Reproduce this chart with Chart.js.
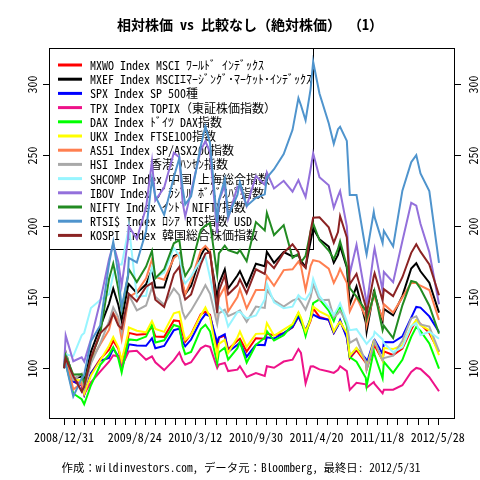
<!DOCTYPE html>
<html><head><meta charset="utf-8">
<script src="https://cdn.jsdelivr.net/npm/chart.js@4.4.1/dist/chart.umd.min.js"></script>
<style>html,body{margin:0;padding:0;background:#fff}canvas{display:block}</style>
</head><body>
<canvas id="c" width="480" height="480"></canvas>
<script>
// ---- data (values normalised to 100 on 2008/12/31) ----
const dates = ['2008/12/31','2009/1/6','2009/1/30','2009/2/27','2009/3/9','2009/3/31','2009/4/30','2009/5/29','2009/6/12','2009/6/30','2009/7/10','2009/7/31','2009/8/4','2009/8/31','2009/9/30','2009/10/20','2009/10/30','2009/11/30','2009/12/31','2010/1/19','2010/1/29','2010/2/8','2010/2/26','2010/3/31','2010/4/15','2010/4/30','2010/5/25','2010/5/31','2010/6/18','2010/6/30','2010/7/30','2010/8/9','2010/8/31','2010/9/30','2010/10/29','2010/11/5','2010/11/30','2010/12/31','2011/1/31','2011/2/18','2011/2/28','2011/3/15','2011/3/31','2011/4/8','2011/4/29','2011/5/31','2011/6/16','2011/6/30','2011/7/7','2011/7/29','2011/8/9','2011/8/31','2011/9/30','2011/10/4','2011/10/27','2011/10/31','2011/11/25','2011/11/30','2011/12/30','2012/1/31','2012/2/29','2012/3/16','2012/3/30','2012/4/30','2012/5/31'];

const mxwo = [100,108,90.5,87.8,81.2,96.2,106.4,112.9,119.2,113.7,104.4,121,124.8,123.5,124,129,122.3,122,133.6,133.1,124.2,118.4,123.8,137.9,139.8,137.5,114.3,121.4,122.9,113.3,119.3,120.7,111.7,121,120.7,124.3,123.2,124.5,128.7,136.5,132.6,124.8,133.3,142,136.1,134,124.8,130.4,133.1,122.4,106.9,112.7,103.8,99.1,114.7,115.9,105.4,111.8,109.2,113.8,127.1,133.6,131,124.7,111.5];
const mxef = [100,111,92.8,94,90.9,111.5,128.9,145.3,156.1,144.7,133.4,157.4,159.1,152.8,159,169.6,156.8,156.7,178.9,180.6,158.2,152.1,157.9,179.3,185.1,180.5,148.7,159.3,169.5,156,165.2,168.3,157.7,173.5,171.8,181.9,174.1,181.7,178.7,179.5,175.8,171.1,189.4,198.3,190.8,185.6,174.2,179.7,186,170.8,144.8,157.5,132.1,125.6,153.7,152.5,133.2,141.7,137.2,150.9,170.1,173.8,168.2,160.1,139.1];
const spx = [100,106.8,90.7,87.7,81.3,96.4,105.1,107.1,113.7,108.3,99.5,114.2,116.7,115.9,115.7,121,114,115.6,126.7,127.8,118.5,115.3,120.1,133.5,138,136.4,118,121.6,123.8,111.4,116.5,118,108,116.5,116.2,121.7,120.8,124.6,128.9,136.4,132.6,126.8,134.6,137.7,135.3,134,124.8,130,133.9,121.2,107.9,114,106.6,103.2,119.2,119.8,110.1,118.3,118.2,122.3,135.5,143.1,142.6,136.4,125.4];
const tpx = [100,104.5,92.4,88.1,81.6,90,97.5,104.5,109,108.2,101.3,110.6,111.7,112.2,105.9,108.2,104.1,98.6,105.6,111,104.9,102.4,104.1,113.9,115.8,114.9,100.1,102.5,103.6,97.9,98.9,101.3,93.7,96.5,94.4,101.3,100.2,104.6,105.9,113.4,110.7,89.2,101.2,101.3,99.1,97.6,96.6,98.8,101.3,97.9,84.7,89.7,88.6,86.2,90.2,88.9,82.2,84.8,84.8,87.9,97.3,100.1,99.4,93.6,83.7];
const dax = [100,103.6,82.1,78.1,74.5,87.9,102.2,109.5,114.7,106.8,97,118.1,120.2,119.6,122.2,130.6,118,119.6,130.4,129.1,115.3,109.8,111.4,127.5,130.5,125.9,103.4,111.2,114.3,105.9,114,118.5,103.9,116.4,121.4,126.1,119.4,123.2,130.5,138.7,134.9,122.5,136.2,145.7,148.4,140.5,133,141.3,142.5,129.8,107.7,104.5,93.2,87.5,112.2,109.4,92.8,104.4,96.6,105.8,122,129,126.2,117.4,99.6];
const ukx = [100,108,92,91.1,82.1,94.8,105.4,115.7,121.9,114.7,105.4,124,128.6,126.3,125.2,133.1,127.6,125.5,138.6,139.7,127.4,119.9,123.5,137.1,142.8,136,108.8,117.1,119.9,110.7,121.6,125.7,114.9,124.1,124.4,131.7,122.7,127.1,131,139.3,135.6,125.6,134.1,143.3,140,136.7,125.8,130.9,132.7,124.7,108.6,114.2,104.8,100.1,118.8,118.6,105.2,114.1,113.4,116.2,129.1,133.8,130.2,126.7,109.2];
const as51 = [100,109,84.9,89.5,85.6,105.4,116.7,126.9,138.9,133.6,120.4,146.8,150,153.5,163.3,176.6,164.2,162.2,177.5,180.6,160,152,161.6,182.8,186,182.4,139.2,149.6,157.2,139.9,150,155.7,142,155,155,165,158,169,169.6,175,172,155,172,176,175,170,160,166,170,160,140,150,136,130,152,150,135,145,139.1,149.8,160,160,158,155,134];
const hsi = [100,111.3,91.6,96,85.6,103.1,117.4,132.9,142.7,135.9,125.7,149.4,151.7,140.7,144.1,156.7,150.3,144.6,156,151.4,139.5,135,140.6,152.2,158.4,152.3,131,138.5,141.1,136.5,139.6,140.6,132.6,143.3,142.4,155.3,147.7,143.3,147.5,149.1,146.5,141.1,149.9,158.9,147.8,148.1,135.8,138.4,140.4,132.1,117.7,120.6,104.1,99,116.5,119.2,105.5,107.1,108.8,119.3,135,136.5,130.8,129.2,111.9];
const shcomp = [100,109.8,108.4,123.1,124.8,142.3,148,152.1,165.8,172.9,172.9,195.8,200,150.3,150.9,171.1,163.5,167.3,184.7,179.2,163.7,159.7,164.6,176.1,178.6,163.7,139.5,143.5,138,129.3,139.4,139.7,135,137.1,148.3,159.5,146.3,142.1,143.3,151.3,149.5,148.1,153.5,162.9,150.6,142.6,137.3,142.4,145.6,133.1,126.7,127.4,117.9,117.1,122.9,125.5,120.2,117.7,111.2,114.6,129.3,131.8,123.2,125.6,120.7];
const ibov = [100,123,104.8,107.6,104.6,120.2,146.9,176.7,187.4,174.7,158.1,190.4,199.8,191,213.1,245.8,218.2,227.2,251.6,248.5,216.5,206.7,224.6,253.6,259.8,251.9,195,217.8,228.7,205.5,227.8,227.8,214.1,235.2,229.2,237.8,226.5,231.9,224.3,232.4,228,220.5,240.4,251.3,234.4,228.7,212.9,221.1,224.7,199.8,166.5,186.8,149.5,143.1,181,184.3,154.6,167.7,160.5,189.5,216.4,214.4,201.7,181.7,145];
const nifty = [100,108.9,95.4,95.7,89.7,106.6,124,162.7,173.6,156,140.8,164.5,169.6,160.6,171.5,182.6,163.3,169.6,187.9,190.2,172.1,164.9,171.6,197.3,200.4,202.1,165.9,180.8,186.2,183,180.9,183.1,175.3,202.8,196.9,209.3,193.7,200.7,177.7,180.5,174.5,179.1,196.4,201.8,190,182.8,176.8,183.9,189.3,172,156.3,150.4,140.5,134.6,150.7,153.9,126.6,129.8,121.1,144.2,161.3,160.4,155.9,143.9,124.3];
const rtsi = [100,103,80,92.7,95.3,119,130,173.5,189,166.2,142.3,165.5,177.6,174.4,196.4,233.1,221.2,207.9,234.6,247.9,226.4,215.3,221,256.5,270.3,258.4,202.5,218.2,232.8,207,222,231,214.2,219.9,222.4,234.2,240.1,250.7,267.8,290.2,285.1,274.5,296.7,315.8,293.4,272.4,258,268.3,270,260,222,222,183,180,210,206.3,188.1,196.7,185.7,225,245,250,237.1,224.7,174.1];
const kospi = [100,106.8,94.4,83.5,87,107.2,124.5,130.8,138.3,130,127.8,148.5,152.4,147,157.3,160,148.1,143,166.2,171.3,154.3,148.3,151.9,173,180.7,181.6,138.7,154.4,165.4,151.9,158.3,162.5,152.7,169.6,166.3,175.6,170.4,181.3,187.2,181.7,174,170.6,196.8,205.9,206.2,199.1,188.3,195.8,207.1,192,159.1,166.4,143.2,138,164.7,166.9,147.5,155.6,150.7,164,181.2,187.2,182,173,151.3];

const seriesNames = [
  'MXWO Index MSCI ﾜｰﾙﾄﾞ ｲﾝﾃﾞｯｸｽ',
  'MXEF Index MSCIｴﾏｰｼﾞﾝｸﾞ･ﾏｰｹｯﾄ･ｲﾝﾃﾞｯｸｽ',
  'SPX Index SP 500種',
  'TPX Index TOPIX（東証株価指数）',
  'DAX Index ﾄﾞｲﾂ DAX指数',
  'UKX Index FTSE100指数',
  'AS51 Index SP/ASX200指数',
  'HSI Index 香港 ﾊﾝｾﾝ指数',
  'SHCOMP Index 中国 上海総合指数',
  'IBOV Index ﾌﾞﾗｼﾞﾙ ﾎﾞﾍﾞｽﾊﾟ指数',
  'NIFTY Index ｲﾝﾄﾞ NIFTY指数',
  'RTSI$ Index ﾛｼｱ RTS指数 USD',
  'KOSPI Index 韓国総合株価指数'
];
const seriesValues = [mxwo, mxef, spx, tpx, dax, ukx, as51, hsi, shcomp, ibov, nifty, rtsi, kospi];
const seriesColors = ['#FF0000','#000000','#0000FF','#EE1289','#00FF00','#FFFF00','#FF7F50','#A9A9A9','#98F5FF','#9370DB','#228B22','#4F94CD','#8B2323'];

const xTickLabels = ['2008/12/31','2009/8/24','2010/3/12','2010/9/30','2011/4/20','2011/11/8','2012/5/28'];
const xTickStep = 24;          // one axis tick every 24 weekdays
const yTicks = [100,150,200,250,300];
const titleText = '相対株価 vs 比較なし（絶対株価） （1）';
const footerText = '作成：wildinvestors.com, データ元：Bloomberg, 最終日: 2012/5/31';

// ---- helpers ----
const T0 = Date.UTC(2008,11,31);
function weekdayIndex(s){
  const [y,m,d] = s.split('/').map(Number);
  const t = Date.UTC(y,m-1,d);
  let n = 0;
  for(let u=T0+864e5; u<=t; u+=864e5){ const w=new Date(u).getUTCDay(); if(w!==0&&w!==6) n++; }
  return n;
}
const xs = dates.map(weekdayIndex);
const lastIdx = xs[xs.length-1];
const allVals = seriesValues.flat().filter(v=>typeof v==='number');
const yLo = Math.min(...allVals), yHi = Math.max(...allVals);
const xPad = lastIdx*0.04;

const MONO = '"Noto Sans Mono CJK JP","Noto Sans CJK JP","DejaVu Sans Mono",monospace';

const datasets = seriesValues.map((vals,i)=>({
  label: seriesNames[i],
  data: xs.map((x,j)=>({x:x, y:vals[j]})),
  borderColor: seriesColors[i],
  backgroundColor: seriesColors[i],
  borderWidth: 2,
  pointRadius: 0,
  tension: 0,
  fill: false,
  order: seriesValues.length - i
}));

const frame = {
  id: 'frame',
  beforeDatasetsDraw(chart){
    const ctx = chart.ctx, a = chart.chartArea;
    const lx = a.left, ly = a.top, lw = 264, rowH = 14.2, lh = 201;
    ctx.save();
    ctx.strokeStyle = '#000'; ctx.lineWidth = 1;
    ctx.strokeRect(lx+0.5, ly+0.5, lw, lh);
    ctx.font = '12px ' + MONO;
    ctx.textBaseline = 'middle'; ctx.textAlign = 'left';
    seriesNames.forEach((nm,i)=>{
      const y = ly + 17 + i*rowH;
      ctx.strokeStyle = seriesColors[i]; ctx.lineWidth = 3;
      ctx.beginPath(); ctx.moveTo(lx+9, y); ctx.lineTo(lx+33, y); ctx.stroke();
      ctx.fillStyle = '#000';
      ctx.fillText(nm, lx+41, y+0.5);
    });
    ctx.restore();
  },
  afterDraw(chart){
    const ctx = chart.ctx, a = chart.chartArea;
    const xS = chart.scales.x, yS = chart.scales.y;
    ctx.save();
    ctx.strokeStyle = '#000'; ctx.lineWidth = 1;
    ctx.strokeRect(a.left+0.5, a.top+0.5, a.right-a.left, a.bottom-a.top);
    ctx.font = '12px ' + MONO; ctx.fillStyle = '#000';
    yTicks.forEach(v=>{
      const y = Math.round(yS.getPixelForValue(v))+0.5;
      ctx.beginPath();
      ctx.moveTo(a.left-6, y); ctx.lineTo(a.left, y);
      ctx.moveTo(a.right+1, y); ctx.lineTo(a.right+7, y);
      ctx.stroke();
      [a.left-16.5, a.right+19].forEach(px=>{
        ctx.save(); ctx.translate(px, y); ctx.rotate(-Math.PI/2);
        ctx.textAlign='center'; ctx.textBaseline='middle';
        ctx.fillText(String(v), 0, 0); ctx.restore();
      });
    });
    for(let k=0; k<=lastIdx; k+=xTickStep){
      const x = Math.round(xS.getPixelForValue(k))+0.5;
      ctx.beginPath(); ctx.moveTo(x, a.bottom+1); ctx.lineTo(x, a.bottom+7); ctx.stroke();
    }
    ctx.textAlign='center'; ctx.textBaseline='middle';
    xTickLabels.forEach(s=>{
      const x = xS.getPixelForValue(weekdayIndex(s));
      ctx.fillText(s, x, a.bottom+19);
    });
    ctx.font = 'bold 14px ' + MONO;
    ctx.fillText(titleText, 250, 25);
    ctx.font = '11.4px ' + MONO;
    ctx.fillText(footerText, 241, 468);
    ctx.restore();
  }
};

new Chart(document.getElementById('c'), {
  type: 'line',
  data: { datasets },
  options: {
    responsive: false, animation: false, devicePixelRatio: 1,
    layout: { padding: { left: 49, right: 26, top: 48, bottom: 62 } },
    plugins: { legend: { display: false }, tooltip: { enabled: false }, title: { display: false } },
    scales: {
      x: { type: 'linear', display: false, min: -xPad, max: lastIdx + xPad },
      y: { type: 'linear', display: false, min: yLo - (yHi-yLo)*0.04, max: yHi + (yHi-yLo)*0.04 }
    }
  },
  plugins: [frame]
});
</script>
</body></html>
